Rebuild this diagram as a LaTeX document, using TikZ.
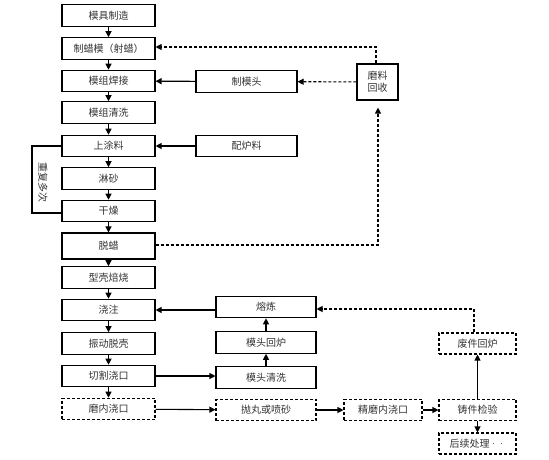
\documentclass[tikz,border=0pt]{standalone}
\usepackage{fontspec}
\newfontfamily\cjk{Noto Sans CJK SC}
\usetikzlibrary{arrows.meta}
\begin{document}
\begin{tikzpicture}[x=1pt,y=-1pt,
  every node/.style={font=\cjk\fontsize{10}{12}\selectfont, text=black!80},
  box/.style={draw, line width=1.1pt, minimum width=93pt, minimum height=21.5pt, inner sep=0pt},
  rbox/.style={box, minimum width=100pt},
  dbox/.style={box, dashed, dash pattern=on 3pt off 2pt},
  arr/.style={line width=1.1pt, -{Triangle[length=6pt,width=6pt]}},
  darr/.style={arr, dash pattern=on 3pt off 2pt},
  dline/.style={line width=1.1pt, dash pattern=on 3pt off 2pt}]
\useasboundingbox (0,0) rectangle (549,459);
% left column
\node[box] (a1) at (108.5,15.5) {模具制造};
\node[box] (a2) at (108.5,48.5) {制蜡模（射蜡）};
\node[box] (a3) at (108.5,81) {模组焊接};
\node[box] (a4) at (108.5,112.5) {模组清洗};
\node[box] (a5) at (108.5,146) {上涂料};
\node[box] (a6) at (108.5,178.5) {淋砂};
\node[box] (a7) at (108.5,211) {干燥};
\node[box, minimum height=26pt] (a8) at (108.5,246) {脱蜡};
\node[box] (a9) at (108.5,277.5) {型壳焙烧};
\node[box] (a10) at (108.5,310) {浇注};
\node[box] (a11) at (108.5,343.5) {振动脱壳};
\node[box] (a12) at (108.5,376) {切割浇口};
\node[dbox] (a13) at (108.5,409) {磨内浇口};
\foreach \i/\j in {1/2,2/3,3/4,4/5,5/6,6/7,7/8,8/9,9/10,10/11,11/12,12/13}
  \draw[arr] (a\i) -- (a\j);
% right upper
\node[rbox, minimum width=101pt] (m) at (246.5,81.5) {制模头};
\node[rbox, minimum width=101pt] (p) at (246.5,146) {配炉料};
\node[box, minimum width=41pt, minimum height=36pt, align=center] (r) at (377.5,82) {磨料\\回收};
\draw[arr] (m) -- (a3);
\draw[arr] (p) -- (a5);
\draw[darr] (r) -- (m);
\coordinate (c1) at (376,47);
\draw[darr] (r.north -| c1) -- (c1) -- (a2.east |- c1);
\coordinate (c2) at (378,245);
\draw[darr, shorten >=7pt] (a8.east |- c2) -- (c2) -- (r.south -| c2);
% repeat loop
\coordinate (l1) at (32,146);
\coordinate (l2) at (32,213);
\draw[line width=1.1pt] (a5.west |- l1) -- (l1) -- (l2) -- (a7.west |- l2);
\node[rotate=-90, inner sep=0pt] (rep) at (43,182) {重复多次};
% right lower
\node[rbox] (s1) at (266,307) {熔炼};
\node[rbox] (s2) at (266,342.5) {模头回炉};
\node[rbox] (s3) at (266,377.5) {模头清洗};
\node[rbox, dashed, dash pattern=on 3pt off 2pt] (s4) at (266,410) {抛丸或喷砂};
\node[dbox, minimum width=78pt] (s5) at (383,410) {精磨内浇口};
\node[dbox, minimum width=77pt] (s6) at (477.5,410) {铸件检验};
\node[dbox, minimum width=77pt, minimum height=21pt] (s7) at (477.5,443.5) {后续处理{\rmfamily ··}};
\node[dbox, minimum width=77pt, minimum height=21pt] (s8) at (477.5,343.5) {废件回炉};
\coordinate (c3) at (0,310);
\draw[arr] (s1.west |- c3) -- (a10.east |- c3);
\draw[arr] (a12.east) -- (s3.west |- a12.east);
\draw[arr] (s3) -- (s2);
\draw[arr] (s2) -- (s1);
\draw[arr] (a13) -- (s4);
\draw[arr] (s4) -- (s5);
\draw[arr] (s5) -- (s6);
\draw[arr] (s6) -- (s7);
\draw[arr] (s6) -- (s8);
\coordinate (c4) at (474,309);
\draw[darr] (s8.north -| c4) -- (c4) -- (s1.east |- c4);
\end{tikzpicture}
\end{document}
